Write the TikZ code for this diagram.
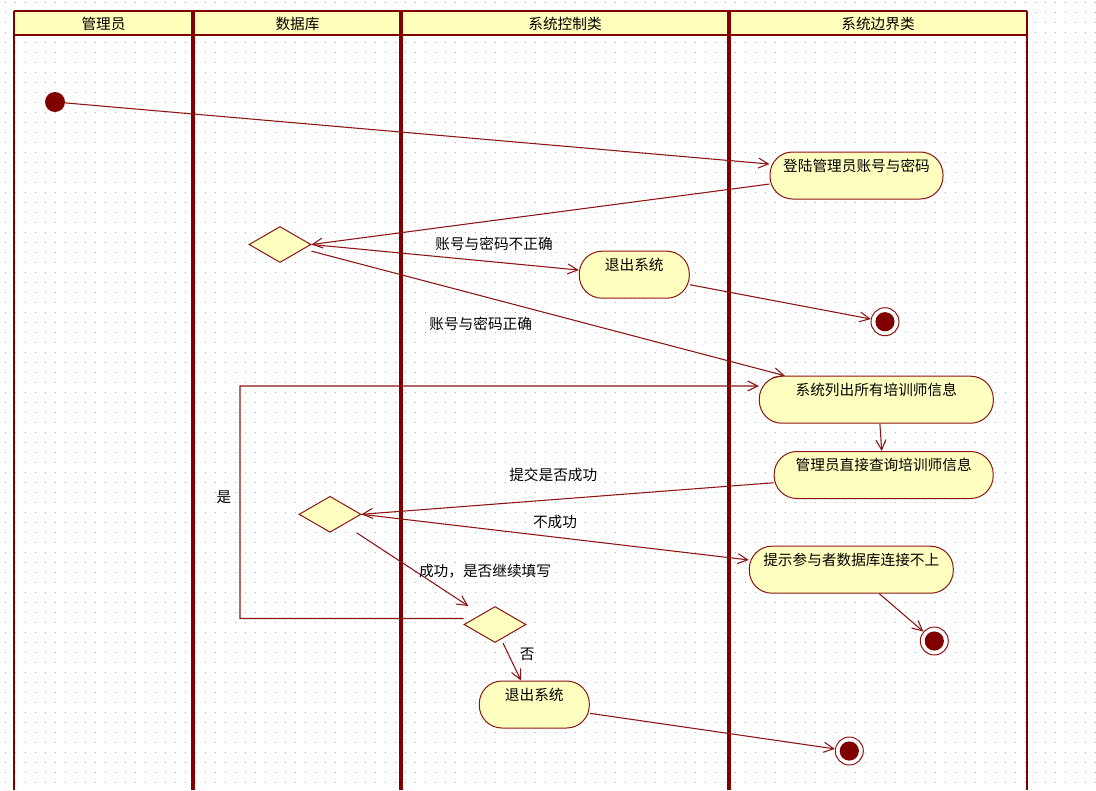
\documentclass[tikz,border=0pt]{standalone}
\usepackage{fontspec}
\setmainfont{Noto Sans CJK SC}
\usetikzlibrary{arrows.meta,shapes.geometric}
\definecolor{dred}{RGB}{128,0,0}
\definecolor{edgec}{RGB}{140,20,20}
\definecolor{boxfill}{RGB}{255,255,192}
\definecolor{headfill}{RGB}{255,255,187}
\definecolor{dotc}{RGB}{175,175,175}

\begin{document}
\begin{tikzpicture}[x=0.75pt,y=-0.75pt,
  font=\fontsize{11pt}{13pt}\selectfont,
  act/.style={draw=edgec, line width=0.75pt, fill=boxfill, rounded corners=17pt,
    minimum width=#1, minimum height=35.25pt, inner sep=0pt,
    text height=8pt, text depth=14.2pt},
  decision/.style={diamond, draw=edgec, line width=0.75pt, fill=boxfill,
    minimum width=46.5pt, minimum height=27pt, inner sep=0pt},
  startnode/.style={circle, fill=dred, minimum size=15pt, inner sep=0pt},
  finalnode/.style={circle, draw=edgec, line width=0.75pt, fill=white,
    minimum size=21pt, inner sep=0pt,
    path picture={\fill[dred] (path picture bounding box.center) circle[radius=7.2pt];}},
  flow/.style={draw=edgec, line width=0.8pt, -{Straight Barb[length=7.5pt,width=7.5pt]}},
  lanehead/.style={inner sep=0pt},
  lanebar/.style={dred, line width=#1},
]
\useasboundingbox (0,0) rectangle (1096,790);
\fill[white] (0,0) rectangle (1096,790);

% dotted background grid
\foreach \j in {0,...,78}
  \draw[dotc, line width=0.75pt, dash pattern=on 0.75pt off 6.75pt]
    (4.5,{2+10*\j}) -- (1096,{2+10*\j});

% swimlane header strip
\fill[headfill] (14,11) rectangle (1027,35);
\draw[lanebar=1.8pt] (14,11) -- (1027,11);
\draw[lanebar=1.5pt] (14,35) -- (1027,35);

% lane borders and dividers
\draw[lanebar=1.5pt] (14,11) -- (14,790);
\draw[lanebar=2.6pt] (193,11) -- (193,790);
\draw[lanebar=3.6pt] (401,11) -- (401,790);
\draw[lanebar=3pt] (729,11) -- (729,790);
\draw[lanebar=1.5pt] (1027,11) -- (1027,790);

% lane titles
\node[lanehead] (h1) at (103.5,23.5) {管理员};
\node[lanehead] (h2) at (297.5,23.5) {数据库};
\node[lanehead] (h3) at (565,23.5) {系统控制类};
\node[lanehead] (h4) at (878,23.5) {系统边界类};

% activities, decisions, start and end points
\node[startnode] (init) at (55,102) {};
\node[act=129.75pt] (login) at (856.5,175.5) {登陆管理员账号与密码};
\node[decision] (d1) at (280,244.5) {};
\node[act=82.5pt] (exit1) at (634.3,274.7) {退出系统};
\node[finalnode] (f1) at (885,321.7) {};
\node[act=175.5pt] (list) at (876.3,399.7) {系统列出所有培训师信息};
\node[act=164.25pt] (query) at (883.7,475) {管理员直接查询培训师信息};
\node[decision] (d2) at (330,514.3) {};
\node[act=153pt] (hint) at (851.3,569.7) {提示参与者数据库连接不上};
\node[finalnode] (f2) at (934.3,641) {};
\node[decision] (d3) at (495,624.5) {};
\node[act=82.5pt] (exit2) at (534.3,704.5) {退出系统};
\node[finalnode] (f3) at (849.3,751) {};
\coordinate (loopc) at (240,386);

% transitions
\draw[flow] (init) -- ([yshift=8.6pt]login.west);
\draw[flow] ([yshift=-6.4pt]login.west) -- (d1.east);
\draw[flow] (d1.east) -- ([yshift=3.5pt]exit1.west);
\draw[flow] ([yshift=-5pt]d1.east) -- ([xshift=19.5pt]list.north west);
\draw[flow] ([yshift=-7.5pt]exit1.east) -- (f1);
\draw[flow] ([yshift=4.5pt]d3.west) -| (loopc) -- ([yshift=10.3pt]list.west);
\draw[flow] ([xshift=2.7pt]list.south) -- ([xshift=-1.5pt]query.north);
\draw[flow] ([yshift=-5.8pt]query.west) -- (d2.east);
\draw[flow] (d2.east) -- ([yshift=7.3pt]hint.west);
\draw[flow] ([xshift=20pt]d2.south) -- ([xshift=-20pt]d3.north);
\draw[flow] ([xshift=21pt]hint.south) -- (f2);
\draw[flow] ([xshift=6pt]d3.south) -- ([xshift=-10pt]exit2.north);
\draw[flow] ([yshift=-6.6pt]exit2.east) -- (f3);

% guard labels
\node (g1) at (494,244) {账号与密码不正确};
\node (g2) at (480.7,324.3) {账号与密码正确};
\node (g3) at (553.3,475) {提交是否成功};
\node (g4) at (555,521.7) {不成功};
\node (g5) at (485,570.7) {成功，是否继续填写};
\node (g6) at (224,497.7) {是};
\node (g7) at (527.3,654) {否};
\end{tikzpicture}
\end{document}
